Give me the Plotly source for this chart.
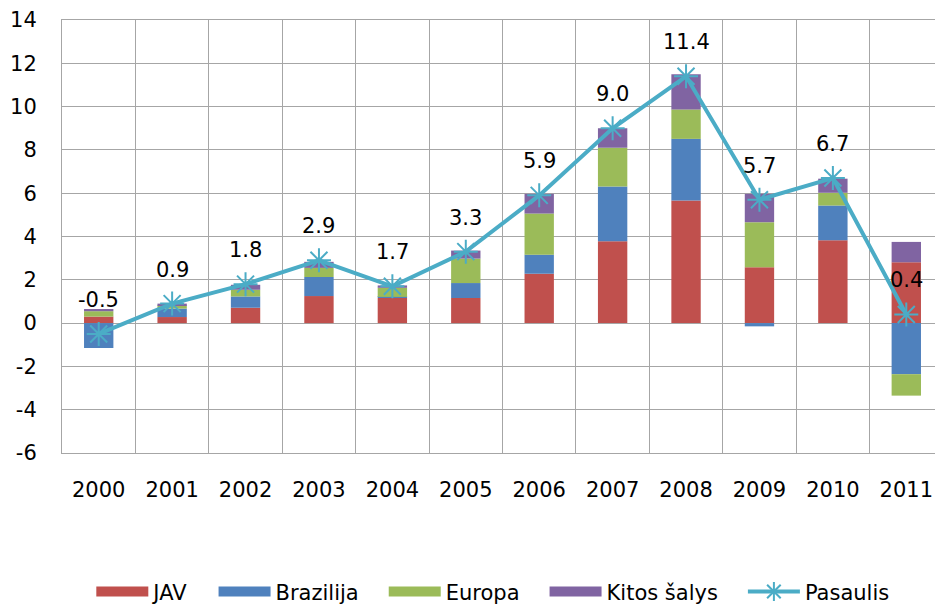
import plotly.graph_objects as go

# Data
YEARS = ['2000', '2001', '2002', '2003', '2004', '2005',
         '2006', '2007', '2008', '2009', '2010', '2011']
JAV = [0.30, 0.28, 0.71, 1.25, 1.16, 1.16, 2.28, 3.78, 5.66, 2.58, 3.83, 2.81]
BRAZILIJA = [-1.15, 0.39, 0.52, 0.88, 0.05, 0.69, 0.88, 2.53, 2.85, -0.15, 1.60, -2.36]
EUROPA = [0.25, 0.15, 0.31, 0.42, 0.42, 1.13, 1.90, 1.79, 1.36, 2.08, 0.59, -0.99]
KITOS = [0.10, 0.08, 0.23, 0.28, 0.11, 0.37, 0.91, 0.90, 1.62, 1.31, 0.65, 0.94]
PASAULIS = [-0.5, 0.9, 1.8, 2.9, 1.7, 3.3, 5.9, 9.0, 11.4, 5.7, 6.7, 0.4]
Y_TICKS = [-6, -4, -2, 0, 2, 4, 6, 8, 10, 12, 14]
Y_TICK_LABELS = ['-6', '-4', '-2', '0', '2', '4', '6', '8', '10', '12', '14']

SERIES = [
    ('JAV', JAV, '#C0504D'),
    ('Brazilija', BRAZILIJA, '#4F81BD'),
    ('Europa', EUROPA, '#9BBB59'),
    ('Kitos šalys', KITOS, '#8064A2'),
]
LINE_COLOR = '#4BACC6'
GRID = '#A6A6A6'
FONT = 'DejaVu Sans'
PAD = '\u00a0' * 3  # extra room between legend entries

fig = go.Figure()

for name, vals, color in SERIES:
    fig.add_trace(go.Bar(
        name=name,
        x=YEARS,
        y=vals,
        marker=dict(color=color, line=dict(width=0)),
        showlegend=False,
    ))
    # wide swatch for the legend
    fig.add_trace(go.Scatter(
        name=name + PAD, x=[None], y=[None], mode='lines',
        line=dict(color=color, width=14),
    ))

fig.add_trace(go.Scatter(
    name='Pasaulis',
    x=YEARS,
    y=PASAULIS,
    mode='lines+markers',
    line=dict(color=LINE_COLOR, width=4),
    marker=dict(symbol='asterisk-open', size=20,
                line=dict(color=LINE_COLOR, width=2)),
))

# data labels above the world line
for i, v in enumerate(PASAULIS):
    fig.add_annotation(x=i, y=v, text=f'{v:.1f}', showarrow=False,
                       yshift=34, font=dict(family=FONT, size=21, color='#000000'))

# page body adds an 8px margin, so the figure is a little smaller than the window
fig.update_layout(
    width=935,
    height=597,
    barmode='relative',
    bargap=0.6,
    plot_bgcolor='white',
    paper_bgcolor='white',
    margin=dict(l=54, r=0, t=12, b=152),
    font=dict(family=FONT, size=21, color='#000000'),
    showlegend=True,
    legend=dict(orientation='h', x=0.489, xanchor='center',
                yref='container', y=0.022, yanchor='middle',
                font=dict(family=FONT, size=21), itemwidth=52, traceorder='normal'),
    xaxis=dict(
        type='category',
        tickson='boundaries',
        showgrid=True, gridcolor=GRID, gridwidth=1,
        ticks='', ticklabelstandoff=18,
        showline=True, linecolor=GRID, mirror=True,
        range=[-0.5, 11.5],
        automargin=False,
    ),
    yaxis=dict(
        range=[-6, 14],
        tickvals=Y_TICKS, ticktext=Y_TICK_LABELS,
        showgrid=True, gridcolor=GRID, gridwidth=1,
        zeroline=False,
        ticks='', ticklabelstandoff=20,
        showline=True, linecolor=GRID,
        automargin=False,
    ),
)

fig.write_html('out.html')
